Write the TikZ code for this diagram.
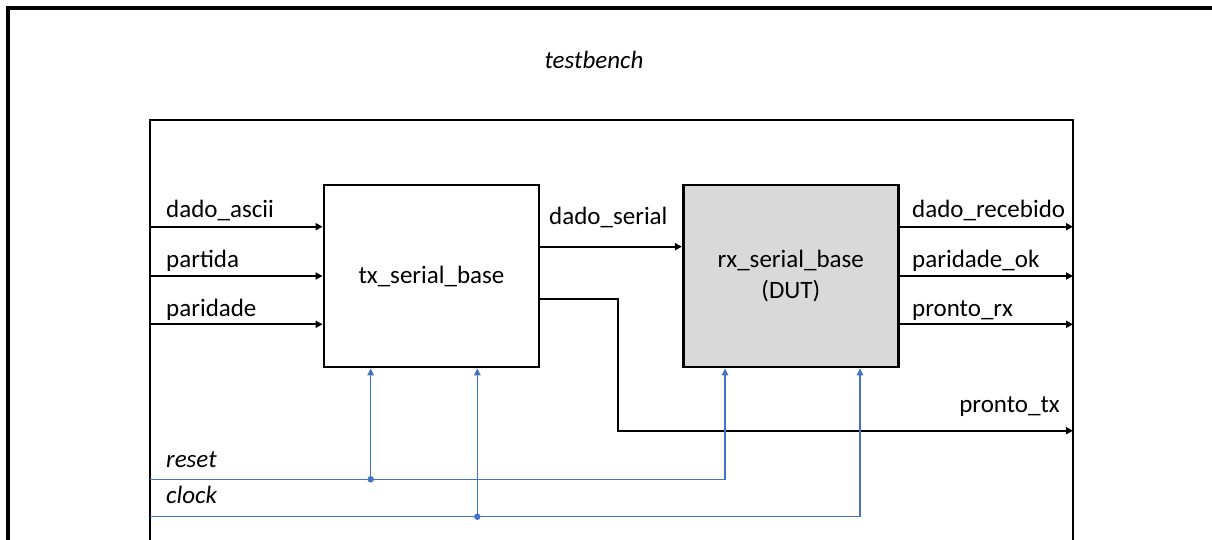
\documentclass[tikz,border=0pt]{standalone}
\usepackage{fontspec}
\setmainfont{Carlito}
\usetikzlibrary{arrows.meta}
\definecolor{wireblue}{HTML}{4472C4}
\definecolor{dutgray}{HTML}{D9D9D9}
\tikzset{
  blockbox/.style={draw=black, line width=2.8pt, minimum width=215pt, minimum height=182pt, inner sep=0pt, align=center, font=\fontsize{25}{31}\selectfont},
  sig/.style={draw=black, line width=2.3pt, -{Triangle[length=7pt,width=7pt]}},
  ctl/.style={draw=wireblue, line width=1.5pt, -{Triangle[length=7pt,width=6.5pt]}},
  ctlline/.style={draw=wireblue, line width=1.5pt},
  lbl/.style={inner sep=0pt, anchor=base west, font=\fontsize{25}{30}\selectfont},
  ilbl/.style={inner sep=0pt, anchor=base west, font=\fontsize{25}{30}\selectfont\itshape},
  frameline/.style={draw=black, line width=3.2pt},
  junction/.style={circle, fill=wireblue, inner sep=0pt, minimum size=6.5pt}
}
\begin{document}
\begin{tikzpicture}[x=1pt,y=-1pt]
\useasboundingbox (0,0) rectangle (1212,540);
\clip (0,0) rectangle (1212,540);
\fill[white] (0,0) rectangle (1212,540);
% outer testbench frame
\draw[frameline] (8,560) -- (8,8) -- (1230,8);
\node[inner sep=0pt, anchor=base, font=\fontsize{25}{30}\selectfont\itshape] (tb) at (594,69) {testbench};
% inner frame
\draw[draw=black, line width=2.8pt] (150,560) -- (150,120) -- (1073,120) -- (1073,560);
% blocks
\node[blockbox] (tx) at (431.5,276) {tx\_serial\_base};
\node[blockbox, fill=dutgray] (rx) at (790.8,276) {rx\_serial\_base\\(DUT)};
% input coordinates on inner frame
\coordinate (i1) at (150,226.7);
\coordinate (i2) at (150,276);
\coordinate (i3) at (150,324.3);
\draw[sig] (i1) -- (tx.west |- i1);
\draw[sig] (i2) -- (tx.west |- i2);
\draw[sig] (i3) -- (tx.west |- i3);
\node[lbl] (l1) at (166,218) {dado\_ascii};
\node[lbl] (l2) at (166,267) {partida};
\node[lbl] (l3) at (166,316) {paridade};
% dado_serial
\coordinate (ds) at (539,246.7);
\draw[sig] (tx.east |- ds) -- (rx.west |- ds);
\node[lbl] (lds) at (549,225) {dado\_serial};
% outputs
\coordinate (o1) at (1073,226.7);
\coordinate (o2) at (1073,276);
\coordinate (o3) at (1073,324.3);
\draw[sig] (rx.east |- o1) -- (o1);
\draw[sig] (rx.east |- o2) -- (o2);
\draw[sig] (rx.east |- o3) -- (o3);
\node[lbl] (lo1) at (912,218) {dado\_recebido};
\node[lbl] (lo2) at (912,267) {paridade\_ok};
\node[lbl] (lo3) at (912,316) {pronto\_rx};
% pronto_tx
\coordinate (ptx) at (1073,430.7);
\coordinate (pt1) at (539,299);
\draw[sig] (tx.east |- pt1) -| (617.7,430.7) -- (ptx);
\node[inner sep=0pt, anchor=base east, font=\fontsize{25}{30}\selectfont] (lptx) at (1060,412) {pronto\_tx};
% reset / clock
\coordinate (rst) at (150,479.3);
\coordinate (clk) at (150,516.7);
\node[junction] (jr) at (370.7,479.3) {};
\node[junction] (jc) at (477.3,516.7) {};
\coordinate (rr) at (725,479.3);
\coordinate (cr) at (860,516.7);
\draw[ctlline] (rst) -- (jr.center);
\draw[ctl] (jr.center) -- (rr) -- (rx.south -| rr);
\draw[ctl] (jr.center) -- (tx.south -| jr);
\draw[ctlline] (clk) -- (jc.center);
\draw[ctl] (jc.center) -- (cr) -- (rx.south -| cr);
\draw[ctl] (jc.center) -- (tx.south -| jc);
\node[ilbl] (lr) at (166,467) {reset};
\node[ilbl] (lc) at (166,503) {clock};
\end{tikzpicture}
\end{document}
